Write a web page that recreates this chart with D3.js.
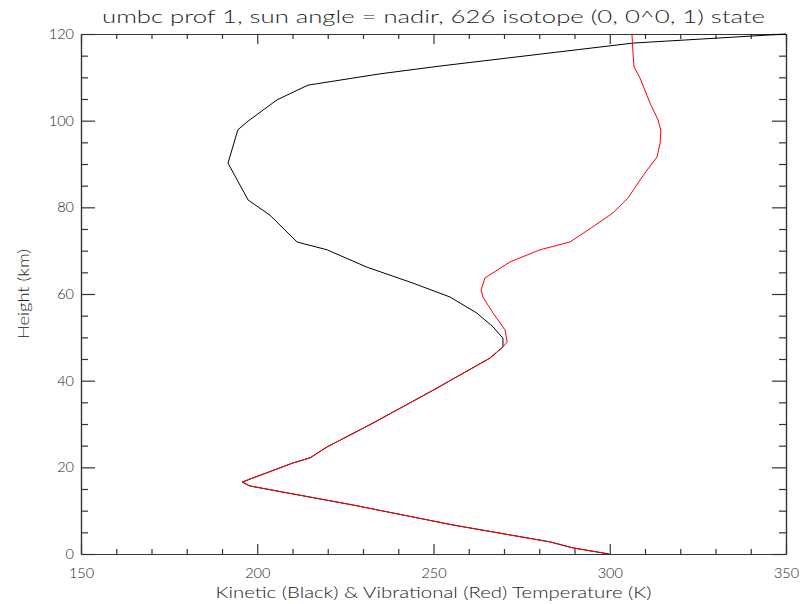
<!DOCTYPE html>
<html>
<head>
<meta charset="utf-8">
<script src="https://cdn.jsdelivr.net/npm/d3@7"></script>
<style>
  body { margin: 0; background: #fff; }
  text { font-family: Lato, "DejaVu Sans", sans-serif; font-weight: 300; fill: #222; }
</style>
</head>
<body>
<div id="chart"></div>
<script>
// profile: height (km) and temperature (K)
const kineticHeight = [0, 1.4, 2.8, 6.7, 11.3, 15.7, 16.6, 21.0, 22.2, 24.7, 30.2, 37.8, 45.2, 47.8,
  49.8, 52.4, 55.6, 59.3, 62.5, 66.2, 70.2, 72.0, 78.2, 81.7, 90.2, 97.9, 99.9, 104.8, 108.2,
  110.8, 112.6, 117.9, 120];
const kineticTemp = [299.8, 289.6, 283.0, 255.5, 227.2, 197.9, 195.7, 210.1, 215.0, 219.8, 232.8, 249.9, 266.0, 269.7,
  269.7, 266.9, 262.3, 254.7, 244.2, 231.1, 219.8, 211.3, 203.6, 197.4, 191.7, 194.5, 197.4, 205.6, 214.4,
  234.8, 251.8, 306.6, 350];

const vibHeight = [0, 1.4, 2.8, 6.7, 11.3, 15.7, 16.6, 21.0, 22.2, 24.7, 30.2, 37.8, 45.2, 47.8,
  48.9, 51.7, 55.6, 59.3, 60.9, 63.7, 67.4, 70.2, 72.0, 75.5, 78.7, 82.2, 86.3, 88.6, 91.6,
  94.9, 97.8, 100.2, 104.1, 109.8, 112.4, 115.6, 120];
const vibTemp = [299.8, 289.6, 283.0, 255.5, 227.2, 197.9, 195.7, 210.1, 215.0, 219.8, 232.8, 249.9, 266.0, 269.7,
  270.9, 270.3, 266.9, 264.0, 263.5, 264.6, 271.7, 280.2, 288.7, 295.2, 300.9, 305.2, 308.6, 310.6, 313.4,
  314.3, 314.5, 313.7, 311.4, 308.6, 306.9, 306.6, 306.3];

const xMajor = [150, 200, 250, 300, 350];
const yMajor = [0, 20, 40, 60, 80, 100, 120];

const titleText = "umbc prof 1, sun angle = nadir, 626 isotope (0, 0^0, 1) state";
const xTitle = "Kinetic (Black) & Vibrational (Red) Temperature (K)";
const yTitle = "Height (km)";

// dimensions
const margin = { top: 34, right: 18, bottom: 50, left: 81 },
    width = 804 - margin.left - margin.right,
    height = 604 - margin.top - margin.bottom;

const svg = d3.select("#chart")
    .append("svg")
    .attr("width", 804)
    .attr("height", 604)
    .append("g")
    .attr("transform", `translate(${margin.left},${margin.top})`);

const x = d3.scaleLinear().domain([150, 350]).range([0, width]);
const y = d3.scaleLinear().domain([0, 120]).range([height, 0]);

const xMinor = d3.range(150, 351, 10).filter(v => !xMajor.includes(v));
const yMinor = d3.range(0, 121, 5).filter(v => !yMajor.includes(v));

// bottom axis with labels, ticks point inward
svg.append("g")
    .attr("class", "axis")
    .attr("transform", `translate(0,${height})`)
    .call(d3.axisBottom(x).tickValues(xMajor).tickSizeInner(-10).tickSizeOuter(0).tickPadding(14)
        .tickFormat(d3.format("d")));
svg.append("g")
    .attr("class", "axis")
    .attr("transform", `translate(0,${height})`)
    .call(d3.axisBottom(x).tickValues(xMinor).tickSizeInner(-5).tickSizeOuter(0).tickFormat(""));
// top mirror
svg.append("g")
    .attr("class", "axis")
    .call(d3.axisTop(x).tickValues(xMajor).tickSizeInner(-10).tickSizeOuter(0).tickFormat(""));
svg.append("g")
    .attr("class", "axis")
    .call(d3.axisTop(x).tickValues(xMinor).tickSizeInner(-5).tickSizeOuter(0).tickFormat(""));

// left axis
svg.append("g")
    .attr("class", "axis")
    .call(d3.axisLeft(y).tickValues(yMajor).tickSizeInner(-14).tickSizeOuter(0).tickPadding(7)
        .tickFormat(d3.format("d")));
svg.append("g")
    .attr("class", "axis")
    .call(d3.axisLeft(y).tickValues(yMinor).tickSizeInner(-7).tickSizeOuter(0).tickFormat(""));
// right mirror
svg.append("g")
    .attr("class", "axis")
    .attr("transform", `translate(${width},0)`)
    .call(d3.axisRight(y).tickValues(yMajor).tickSizeInner(-14).tickSizeOuter(0).tickFormat(""));
svg.append("g")
    .attr("class", "axis")
    .attr("transform", `translate(${width},0)`)
    .call(d3.axisRight(y).tickValues(yMinor).tickSizeInner(-7).tickSizeOuter(0).tickFormat(""));

svg.selectAll(".axis path").attr("stroke", "#333").attr("stroke-width", 1.2);
svg.selectAll(".axis line").attr("stroke", "#333").attr("stroke-width", 1.2);
svg.selectAll(".axis text")
    .style("font-family", "Lato, 'DejaVu Sans', sans-serif")
    .style("font-weight", 300)
    .style("font-size", "14.5px")
    .attr("fill", "#222");

// profiles
const kinetic = kineticHeight.map((h, i) => ({ h: h, t: kineticTemp[i] }));
const vib = vibHeight.map((h, i) => ({ h: h, t: vibTemp[i] }));

const line = d3.line()
    .x(d => x(d.t))
    .y(d => y(d.h));

const plot = svg.append("g");
plot.append("path")
    .datum(kinetic)
    .attr("d", line)
    .attr("fill", "none")
    .attr("stroke", "#000")
    .attr("stroke-width", 1);
plot.append("path")
    .datum(vib)
    .attr("d", line)
    .attr("fill", "none")
    .attr("stroke", "#ff0000")
    .attr("stroke-width", 1);

// titles
svg.append("text")
    .attr("x", width / 2)
    .attr("y", -11)
    .attr("text-anchor", "middle")
    .attr("textLength", 663)
    .attr("lengthAdjust", "spacingAndGlyphs")
    .style("font-size", "18px")
    .text(titleText);

svg.append("text")
    .attr("x", width / 2)
    .attr("y", height + 44)
    .attr("text-anchor", "middle")
    .attr("textLength", 436)
    .attr("lengthAdjust", "spacingAndGlyphs")
    .style("font-size", "15px")
    .text(xTitle);

svg.append("text")
    .attr("transform", `translate(${-52},${height / 2}) rotate(-90)`)
    .attr("text-anchor", "middle")
    .attr("textLength", 90)
    .attr("lengthAdjust", "spacingAndGlyphs")
    .style("font-size", "15px")
    .text(yTitle);
</script>
</body>
</html>
